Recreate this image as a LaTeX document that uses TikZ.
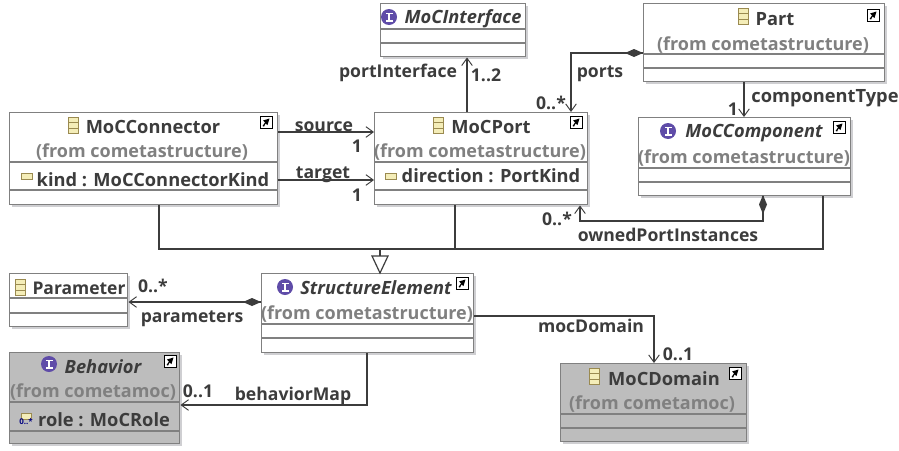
\documentclass[tikz,border=0pt]{standalone}
\usepackage{fontspec}
\setmainfont{Open Sans}[BoldFont={Open Sans Bold}]
\usetikzlibrary{arrows.meta}
\definecolor{ink}{HTML}{3C3C3C}
\definecolor{edge}{HTML}{808080}
\definecolor{sha}{HTML}{CFCFD2}
\definecolor{dim}{HTML}{808080}
\definecolor{gfill}{HTML}{BDBDBD}
\definecolor{purp}{HTML}{5F4CA8}
\definecolor{tan}{HTML}{9A8A50}
\definecolor{cream}{HTML}{F4EDB8}
\tikzset{
 boxst/.style={draw=edge,line width=1.1pt,inner sep=0pt,anchor=north west},
 title/.style={text=ink,font=\bfseries\fontsize{13.7}{15}\selectfont,inner sep=0pt},
 titlesm/.style={text=ink,font=\bfseries\fontsize{13.1}{15}\selectfont,inner sep=0pt},
 ititle/.style={text=ink,font=\bfseries\itshape\fontsize{13.7}{15}\selectfont,inner sep=0pt},
 from/.style={text=dim,font=\bfseries\fontsize{13.5}{15}\selectfont,inner sep=0pt},
 lab/.style={text=ink,font=\bfseries\fontsize{13.2}{15}\selectfont,inner sep=0pt},
 conn/.style={draw=ink,line width=0.8pt},
 open/.style={-{Straight Barb[length=5.5pt,width=8pt,line width=0.7pt]}},
}
% name x0 y0 x1 y1 sep1 sep2 fill
\newcommand{\umlbox}[8]{%
 \fill[sha] (#2+2.5,#3+2.5) rectangle (#4+2.5,#5+2.5);
 \pgfmathsetmacro{\bw}{(#4-#2)*0.75}\pgfmathsetmacro{\bh}{(#5-#3)*0.75}
 \node[boxst,fill=#8,minimum width=\bw pt,minimum height=\bh pt] (#1) at (#2,#3) {};
 \draw[draw=edge,line width=0.9pt] (#1.west |- 0,#6) -- (#1.east |- 0,#6);
 \draw[draw=edge,line width=0.9pt] (#1.west |- 0,#7) -- (#1.east |- 0,#7);
}
\newcommand{\classicon}[2]{%
 \draw[draw=tan,fill=cream,line width=.6pt] (#1-5,#2-8) rectangle (#1+5,#2+8);
 \draw[draw=tan,line width=.5pt] (#1-5,#2-3) -- (#1+5,#2-3) (#1-5,#2+3) -- (#1+5,#2+3);
}
\newcommand{\ifaceicon}[2]{%
 \fill[purp] (#1,#2) circle[radius=8];
 \fill[white] (#1-3.5,#2-4.5) rectangle (#1+3.5,#2-2.8);
 \fill[white] (#1-3.5,#2+2.8) rectangle (#1+3.5,#2+4.5);
 \fill[white] (#1-1.4,#2-4) rectangle (#1+1.4,#2+4);
}
\newcommand{\shortcut}[2]{%
 \draw[draw=black,fill=white,line width=.7pt] (#1-6,#2-6) rectangle (#1+6,#2+6);
 \fill[black] (#1-3.5,#2+4) -- (#1-1,#2+.5) -- (#1-3,#2-1.5) -- (#1+3.5,#2-3.5) -- (#1+1.5,#2+3) -- (#1-.5,#2+1.5) -- (#1-2,#2+4.5) -- cycle;
}
\newcommand{\attricon}[2]{%
 \draw[draw=tan,fill=cream,line width=.7pt] (#1-5.5,#2-3) rectangle (#1+5.5,#2+3);
}
\newcommand{\hdiamond}[2]{\fill[ink] (#1,#2) -- (#1-9,#2-4) -- (#1-18,#2) -- (#1-9,#2+4) -- cycle;}
\begin{document}
\begin{tikzpicture}[x=0.75pt,y=-0.75pt]
\useasboundingbox (0,0) rectangle (899,450);
\fill[white] (0,0) rectangle (899,450);
% boxes
\umlbox{connector}{9}{112}{277}{204}{162}{190}{white}
\umlbox{port}{374}{112}{587}{204}{162}{190}{white}
\umlbox{iface}{380}{3}{525}{56}{29}{43}{white}
\umlbox{part}{643}{3}{884}{81}{54}{68}{white}
\umlbox{component}{638}{117}{850}{195}{168}{182}{white}
\umlbox{parameter}{9}{273}{127}{326}{298}{313}{white}
\umlbox{structure}{261}{273}{473}{352}{324}{338}{white}
\umlbox{behavior}{9}{352}{179}{443}{402}{431}{gfill}
\umlbox{domain}{560}{363}{746}{441}{414}{428}{gfill}
% box texts
\node[title] (t1) at (153,127) {MoCConnector};
\node[from] (f1) at (142,152) {(from cometastructure)};
\node[title] (a1) at (153,180) {kind : MoCConnectorKind};
\node[title] (t2) at (491,127) {MoCPort};
\node[from] (f2) at (480,152) {(from cometastructure)};
\node[title] (a2) at (491,176) {direction : PortKind};
\node[ititle] (t3) at (463,19) {MoCInterface};
\node[title] (t4) at (775,19) {Part};
\node[from] (f4) at (763,45) {(from cometastructure)};
\node[ititle] (t5) at (754,133) {MoCComponent};
\node[from] (f5) at (744,158) {(from cometastructure)};
\node[titlesm] (t6) at (79,288) {Parameter};
\node[ititle] (t7) at (376,288) {StructureElement};
\node[from] (f7) at (367,314) {(from cometastructure)};
\node[ititle] (t8) at (103,367) {Behavior};
\node[from] (f8) at (93,392) {(from cometamoc)};
\node[title] (a8) at (104,420) {role : MoCRole};
\node[title] (t9) at (664,379) {MoCDomain};
\node[from] (f9) at (652,404) {(from cometamoc)};
% icons
\classicon{73}{125}\classicon{438}{125}\classicon{743}{16}\classicon{20}{287}\classicon{594}{376}
\ifaceicon{389}{17}\ifaceicon{668}{131}\ifaceicon{285}{287}\ifaceicon{49}{364}
\shortcut{266}{122}\shortcut{576}{122}\shortcut{873}{15}\shortcut{839}{127}\shortcut{462}{283}\shortcut{170}{361}\shortcut{735}{373}
\attricon{27}{176}\attricon{391}{176}
\draw[draw=tan,fill=cream,line width=.6pt] (21,413) rectangle (31,419);
\node[inner sep=0pt,text=blue!50!black,font=\bfseries\fontsize{6}{6}\selectfont] (m8) at (26,421.5) {0..*};
% associations
\draw[conn,open] (connector.east |- 0,132) -- (port.west |- 0,132);
\draw[conn,open] (connector.east |- 0,180) -- (port.west |- 0,180);
\draw[conn,open] (port.north -| 467,0) -- (iface.south -| 467,0);
\draw[conn,open] (part.west |- 0,53) -- (571,53) -- (port.north -| 571,0);
\draw[conn,open] (part.south -| 744,0) -- (component.north -| 744,0);
\draw[conn,open] (component.south -| 763,0) -- (763,221) -- (580,221) -- (port.south -| 580,0);
\draw[conn,open] (structure.west |- 0,302) -- (parameter.east |- 0,302);
\draw[conn,open] (structure.south -| 367,0) -- (367,405) -- (behavior.east |- 0,405);
\draw[conn,open] (structure.east |- 0,316) -- (654,316) -- (domain.north -| 654,0);
% diamonds
\hdiamond{643}{53}
\hdiamond{261}{302}
\fill[ink] (763,195) -- (767,204.5) -- (763,214) -- (759,204.5) -- cycle;
% generalization
\coordinate (bus) at (380,249);
\draw[conn] (connector.south -| 159,0) |- (bus);
\draw[conn] (port.south -| 455,0) |- (bus);
\draw[conn] (component.south -| 823,0) |- (bus);
\draw[conn] (bus) -- (380,256);
\draw[draw=ink,fill=white,line width=.9pt] (372,256) -- (388,256) -- (structure.north -| 380,0) -- cycle;
% labels
\node[lab] (l1) at (324,127) {source};
\node[lab] (l2) at (357,146) {1};
\node[lab] (l3) at (323,175) {target};
\node[lab] (l4) at (357,195) {1};
\node[lab] (l5) at (398,73) {portInterface};
\node[lab] (l6) at (486,75) {1..2};
\node[lab] (l7) at (600,74) {ports};
\node[lab] (l8) at (551,103) {0..*};
\node[lab,font=\bfseries\fontsize{13.7}{15}\selectfont] (l9) at (825,98) {componentType};
\node[lab] (l10) at (733,109) {1};
\node[lab] (l11) at (557,219) {0..*};
\node[lab] (l12) at (668,235) {ownedPortInstances};
\node[lab] (l13) at (153,286) {0..*};
\node[lab] (l14) at (192,319) {parameters};
\node[lab] (l15) at (293,396) {behaviorMap};
\node[lab] (l16) at (198,391) {0..1};
\node[lab] (l17) at (591,326) {mocDomain};
\node[lab] (l18) at (678,354) {0..1};
\end{tikzpicture}
\end{document}
